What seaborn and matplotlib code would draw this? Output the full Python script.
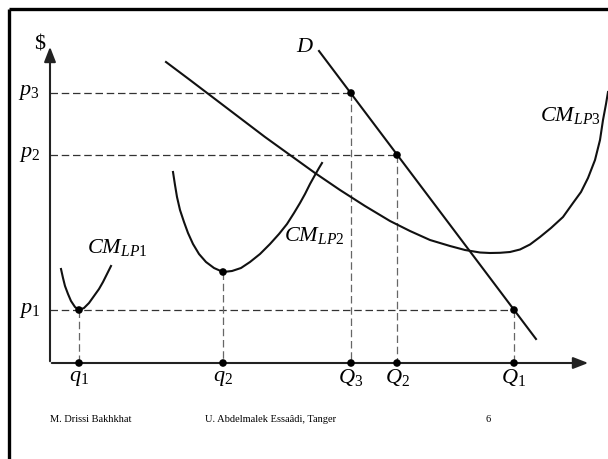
import matplotlib
matplotlib.use("Agg")
import matplotlib.pyplot as plt
import seaborn as sns

# curves (pixel coords, y grows downward)
cm1_x = [61, 63, 65, 68, 71, 75, 79, 84, 89, 94, 99, 103, 107, 111]
cm1_y = [269, 278, 286, 294, 301, 307, 310, 308, 303, 296, 289, 282, 274, 266]

cm2_x = [173, 175, 177, 180, 184, 188, 193, 199, 206, 214, 223, 232, 241, 250, 260, 270, 279, 287, 294, 300, 305, 310, 315, 319, 322]
cm2_y = [172, 185, 197, 210, 222, 233, 244, 254, 262, 268, 272, 271, 268, 262, 254, 244, 234, 224, 213, 203, 194, 184, 175, 168, 163]

cm3_x = [166, 190, 215, 240, 265, 290, 315, 340, 365, 390, 410, 430, 450, 465, 480, 490, 500, 510, 520, 530, 540, 551, 563, 573, 581, 588, 595, 600, 603, 606, 608]
cm3_y = [62, 80, 99, 118, 137, 155, 173, 190, 206, 221, 231, 240, 246, 250, 252.5, 253, 252.8, 252, 249.5, 244.5, 237, 228, 217, 203, 192, 178, 160, 140, 120, 104, 92]

d_x = [319, 536]
d_y = [51, 339]

# points on D (prices p3, p2, p1) and minima of the LP curves
d_pt_x = [351, 397, 514]
d_pt_y = [93, 155, 310]
min_x = [79, 223]
min_y = [310, 272]

x0, y0 = 50, 363
price_y = [310, 155, 93]
price_lab = [r"$p_1$", r"$p_2$", r"$p_3$"]
qty_x = [79, 223, 351, 397, 514]
qty_lab = [r"$q_1$", r"$q_2$", r"$Q_3$", r"$Q_2$", r"$Q_1$"]

plt.rcParams['mathtext.fontset'] = 'custom'
plt.rcParams['mathtext.rm'] = 'Liberation Serif'
plt.rcParams['mathtext.it'] = 'Liberation Serif:italic'
plt.rcParams['font.family'] = ['Liberation Serif', 'DejaVu Serif']

fig = plt.figure(figsize=(6.08, 4.59), dpi=100)
ax = fig.add_axes([0, 0, 1, 1])
ax.set_xlim(0, 608)
ax.set_ylim(459, 0)
ax.axis('off')

# slide frame
ax.plot([9, 608], [9, 9], color='black', lw=2.4, solid_capstyle='butt')
ax.plot([9, 9], [9, 459], color='black', lw=2.4, solid_capstyle='butt')

# dashed guides
for px, py in zip(d_pt_x, d_pt_y):
    ax.plot([x0, px], [py, py], color='#333333', lw=0.9, dashes=(6, 3))
for px, py in zip(d_pt_x + min_x, d_pt_y + min_y):
    ax.plot([px, px], [py, y0], color='#666666', lw=0.9, dashes=(6, 3))

# axes with arrows
ax.annotate('', xy=(50, 44), xytext=(x0, y0 + 1),
            arrowprops=dict(arrowstyle='-|>,head_length=0.9,head_width=0.35', color='#222222', lw=1.5))
ax.annotate('', xy=(591, y0), xytext=(x0 - 1, y0),
            arrowprops=dict(arrowstyle='-|>,head_length=0.9,head_width=0.35', color='#222222', lw=1.5))

for xs, ys in [(cm1_x, cm1_y), (cm2_x, cm2_y), (cm3_x, cm3_y), (d_x, d_y)]:
    sns.lineplot(x=xs, y=ys, sort=False, estimator=None, color='#111111', lw=1.5, ax=ax,
                 solid_joinstyle='round')

sns.scatterplot(x=d_pt_x + min_x, y=d_pt_y + min_y, color='black', s=30, edgecolor='none', ax=ax, zorder=5)
sns.scatterplot(x=qty_x, y=[y0] * len(qty_x), color='black', s=30, edgecolor='none', ax=ax, zorder=5)

for py, lab in zip(price_y, price_lab):
    ax.text(40, py, lab, fontsize=16, ha='right', va='center')
for qx, lab in zip(qty_x, qty_lab):
    ax.text(qx, 378, lab, fontsize=16, ha='center', va='center')

ax.text(40, 45, "$", fontsize=16, ha='center', va='center')
ax.text(305, 47, r"$D$", fontsize=16, ha='center', va='center')
ax.text(87, 248, r"$CM_{LP1}$", fontsize=16, ha='left', va='center')
ax.text(284, 236, r"$CM_{LP2}$", fontsize=16, ha='left', va='center')
ax.text(540, 116, r"$CM_{LP3}$", fontsize=16, ha='left', va='center')

# footer
ax.text(50, 419, "M. Drissi Bakhkhat", fontsize=7.5, ha='left', va='center')
ax.text(205, 419, "U. Abdelmalek Essaâdi, Tanger", fontsize=7.5, ha='left', va='center')
ax.text(488, 419, "6", fontsize=7.5, ha='center', va='center')

fig.savefig("out.png", dpi=100)
